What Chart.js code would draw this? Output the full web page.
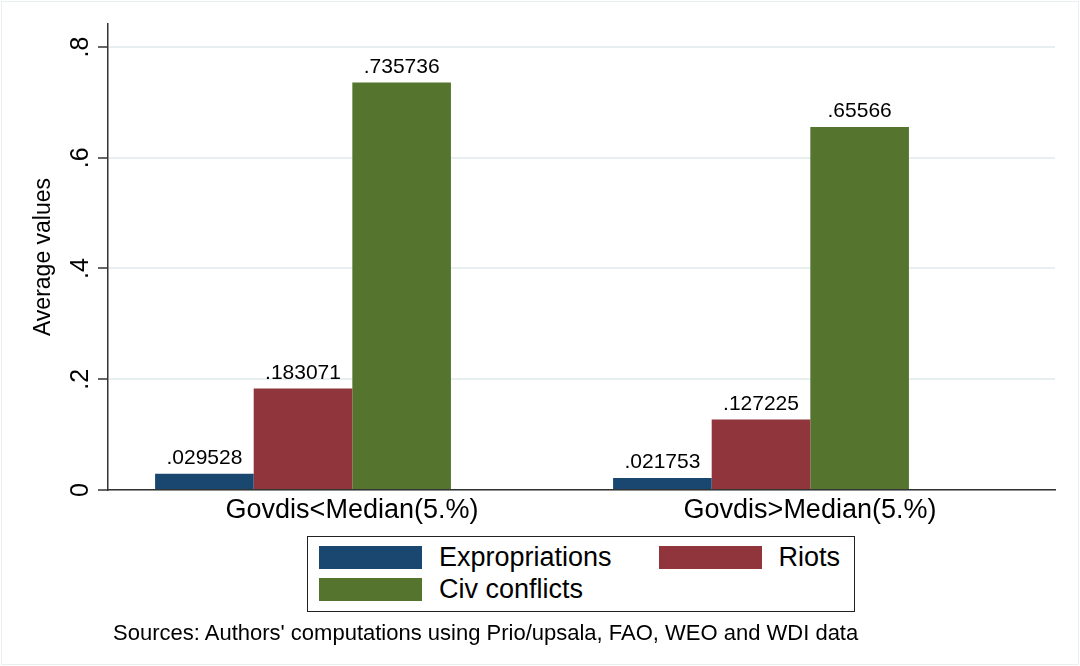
<!DOCTYPE html>
<html>
<head>
<meta charset="utf-8">
<script src="https://cdn.jsdelivr.net/npm/chart.js@4.4.1/dist/chart.umd.min.js"></script>
<style>
    body { margin: 0; background: #fff; }
    #wrap { position: relative; width: 1080px; height: 666px; font-family: "Liberation Sans", Arial, sans-serif; }
    #frame { position: absolute; left: 1px; top: 1px; right: 1px; bottom: 1px; border: 1px solid #e8eff1; pointer-events: none; }
    #legendBox { position: absolute; left: 307px; top: 536px; width: 546px; height: 74px; border: 1.5px solid #222; background: #fff; }
    .swatch { position: absolute; width: 103px; height: 23px; }
    .ltext { position: absolute; font-size: 27px; line-height: 27px; color: #000; white-space: nowrap; }
    #source { position: absolute; left: 113px; top: 622px; font-size: 22px; line-height: 22px; color: #000; white-space: nowrap; }
</style>
</head>
<body>
<div id="wrap">
    <canvas id="chart" width="1080" height="666"></canvas>
    <div id="legendBox"></div>
    <div id="source">Sources: Authors' computations using Prio/upsala, FAO, WEO and WDI data</div>
    <div id="frame"></div>
</div>
<script>
// данные графика
const categories = ['Govdis<Median(5.%)', 'Govdis>Median(5.%)'];
const seriesNames = ['Expropriations', 'Riots', 'Civ conflicts'];
const expropriations = [0.029528, 0.021753];
const riots = [0.183071, 0.127225];
const civConflicts = [0.735736, 0.65566];
const seriesColors = ['#1a476f', '#90353b', '#55752f'];
const yTickValues = [0, 0.2, 0.4, 0.6, 0.8];
const yTickLabels = ['0', '.2', '.4', '.6', '.8'];

const fontFamily = '"Liberation Sans", Arial, sans-serif';
Chart.defaults.font.family = fontFamily;
Chart.defaults.color = '#000';

function toPoints(values) {
    return values.map((v, i) => ({ x: i, y: v }));
}

// подписи над столбиками в стиле Stata (без ведущего нуля)
const barLabels = {
    id: 'barLabels',
    afterDatasetsDraw(chart) {
        const ctx = chart.ctx;
        ctx.save();
        ctx.font = '21px ' + fontFamily;
        ctx.fillStyle = '#000';
        ctx.textAlign = 'center';
        ctx.textBaseline = 'alphabetic';
        chart.data.datasets.forEach((ds, i) => {
            chart.getDatasetMeta(i).data.forEach((bar, j) => {
                const text = String(ds.data[j].y).replace(/^0\./, '.');
                ctx.fillText(text, bar.x, bar.y - 10);
            });
        });
        ctx.restore();
    }
};

const allSeries = [expropriations, riots, civConflicts];

new Chart(document.getElementById('chart'), {
    type: 'bar',
    data: {
        datasets: allSeries.map((values, i) => ({
            label: seriesNames[i],
            data: toPoints(values),
            backgroundColor: seriesColors[i],
            borderWidth: 0,
            categoryPercentage: 0.646,
            barPercentage: 1
        }))
    },
    options: {
        responsive: false,
        animation: false,
        layout: { padding: { left: 0, top: 24, right: 25, bottom: 126 } },
        plugins: { legend: { display: false }, tooltip: { enabled: false } },
        scales: {
            x: {
                type: 'linear',
                min: -0.4258,
                max: 1.6419,
                offset: false,
                afterBuildTicks: (scale) => { scale.ticks = categories.map((c, i) => ({ value: i })); },
                afterFit: (scale) => { scale.height = 50; },
                grid: { display: false, drawTicks: false, offset: false },
                border: { display: true, color: '#333', width: 1.5 },
                ticks: {
                    font: { size: 27 },
                    padding: 4,
                    labelOffset: 49,
                    maxRotation: 0,
                    autoSkip: false,
                    callback: (v) => categories[v] ?? ''
                }
            },
            y: {
                min: 0,
                max: 0.8415,
                afterBuildTicks: (scale) => { scale.ticks = yTickValues.map(v => ({ value: v })); },
                afterFit: (scale) => { scale.width = 108; },
                grid: { color: '#e8eff1', lineWidth: 2, drawTicks: true, tickLength: 10, tickColor: '#333', tickWidth: 1.5 },
                border: { display: true, color: '#333', width: 1.5 },
                ticks: {
                    font: { size: 25 },
                    minRotation: 90,
                    maxRotation: 90,
                    crossAlign: 'center',
                    padding: 6,
                    callback: (v, i) => yTickLabels[i]
                },
                title: {
                    display: true,
                    text: 'Average values',
                    font: { size: 23 },
                    padding: { top: 30, bottom: 0 }
                }
            }
        }
    },
    plugins: [barLabels]
});

// легенда в рамке, как в Stata
const legendBox = document.getElementById('legendBox');
const legendPos = [
    { sx: 11, sy: 9, tx: 131, align: 'left' },
    { sx: 351, sy: 9, tx: 532, align: 'right' },
    { sx: 11, sy: 41, tx: 131, align: 'left' }
];
seriesNames.forEach((name, i) => {
    const p = legendPos[i];
    const sw = document.createElement('div');
    sw.className = 'swatch';
    sw.style.left = p.sx + 'px';
    sw.style.top = p.sy + 'px';
    sw.style.background = seriesColors[i];
    legendBox.appendChild(sw);
    const t = document.createElement('div');
    t.className = 'ltext';
    t.innerText = name;
    t.style.top = (p.sy - 2) + 'px';
    if (p.align === 'left') {
        t.style.left = p.tx + 'px';
    } else {
        t.style.right = (546 - p.tx) + 'px';
    }
    legendBox.appendChild(t);
});
</script>
</body>
</html>
